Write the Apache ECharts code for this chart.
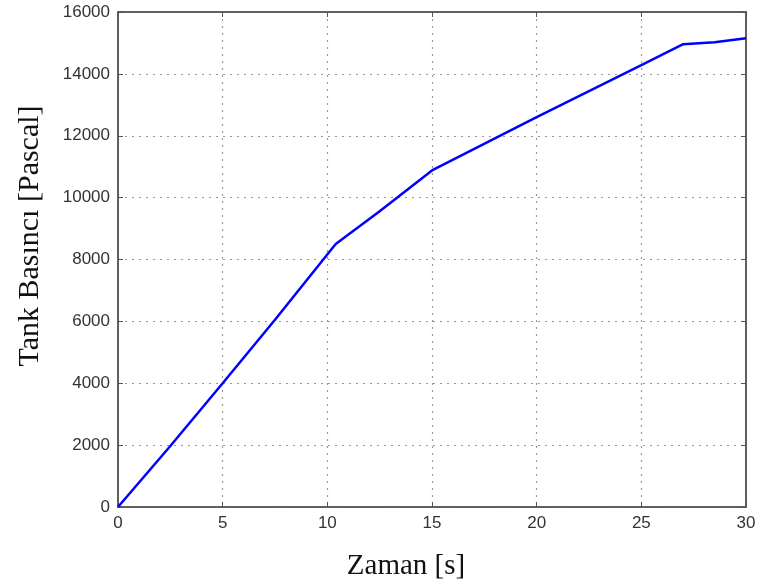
<!DOCTYPE html>
<html>
<head>
<meta charset="utf-8">
<script src="https://cdn.jsdelivr.net/npm/echarts@6/dist/echarts.min.js"></script>
<style>html,body{margin:0;padding:0;background:#fff;}#c{width:757px;height:585px;}</style>
</head>
<body>
<div id="c"></div>
<script>
const timeS = [0, 2.5, 5, 7.5, 10.4, 12.5, 15, 20, 25, 27, 28.5, 30];
const pressurePa = [0, 1970, 4000, 6050, 8500, 9560, 10880, 12600, 14280, 14960, 15020, 15150];
const xTicks = [0, 5, 10, 15, 20, 25, 30];
const yTicks = [0, 2000, 4000, 6000, 8000, 10000, 12000, 14000, 16000];
const xTitle = 'Zaman [s]';
const yTitle = 'Tank Basıncı [Pascal]';

const chart = echarts.init(document.getElementById('c'), null, {renderer: 'canvas'});
const axisCol = '#555';
const labelStyle = {color: '#333', fontFamily: 'Liberation Sans, Arial, sans-serif', fontSize: 17, formatter: v => String(v)};
const gridLine = {show: true, lineStyle: {color: '#999', type: [2, 5], width: 1.2}};
chart.setOption({
  animation: false,
  grid: {left: 118, right: 11, top: 12, bottom: 78, show: true, borderColor: axisCol, borderWidth: 1.5, containLabel: false, outerBoundsMode: 'none'},
  xAxis: [{
    type: 'value', min: xTicks[0], max: xTicks[xTicks.length-1], interval: 5,
    axisLine: {show: true, onZero: false, lineStyle: {color: axisCol, width: 1.5}},
    axisTick: {show: true, inside: true, length: 5, lineStyle: {color: axisCol}},
    axisLabel: Object.assign({margin: 8}, labelStyle),
    splitLine: gridLine,
    name: xTitle, nameLocation: 'middle', nameGap: 45,
    nameTextStyle: {fontFamily: 'Liberation Serif, Times New Roman, serif', fontSize: 29, color: '#111', padding: [0, 52, 0, 0]}
  }, {
    type: 'value', position: 'top', min: 0, max: 30, interval: 5,
    axisLine: {show: true, onZero: false, lineStyle: {color: axisCol, width: 1.5}},
    axisTick: {show: true, inside: true, length: 5, lineStyle: {color: axisCol}},
    axisLabel: {show: false}, splitLine: {show: false}
  }],
  yAxis: [{
    type: 'value', min: yTicks[0], max: yTicks[yTicks.length-1], interval: 2000,
    axisLine: {show: true, onZero: false, lineStyle: {color: axisCol, width: 1.5}},
    axisTick: {show: true, inside: true, length: 5, lineStyle: {color: axisCol}},
    axisLabel: Object.assign({margin: 8}, labelStyle),
    splitLine: gridLine,
    name: yTitle, nameLocation: 'middle', nameGap: 73, nameRotate: 90,
    nameTextStyle: {fontFamily: 'Liberation Serif, Times New Roman, serif', fontSize: 30, color: '#111', padding: [0, 0, 0, 47]}
  }, {
    type: 'value', position: 'right', min: 0, max: 16000, interval: 2000,
    axisLine: {show: true, onZero: false, lineStyle: {color: axisCol, width: 1.5}},
    axisTick: {show: true, inside: true, length: 5, lineStyle: {color: axisCol}},
    axisLabel: {show: false}, splitLine: {show: false}
  }],
  series: [{
    type: 'line',
    data: timeS.map((t, i) => [t, pressurePa[i]]),
    showSymbol: false, symbol: 'none',
    lineStyle: {color: '#0000ff', width: 2.5},
    clip: true
  }]
});
</script>
</body>
</html>
